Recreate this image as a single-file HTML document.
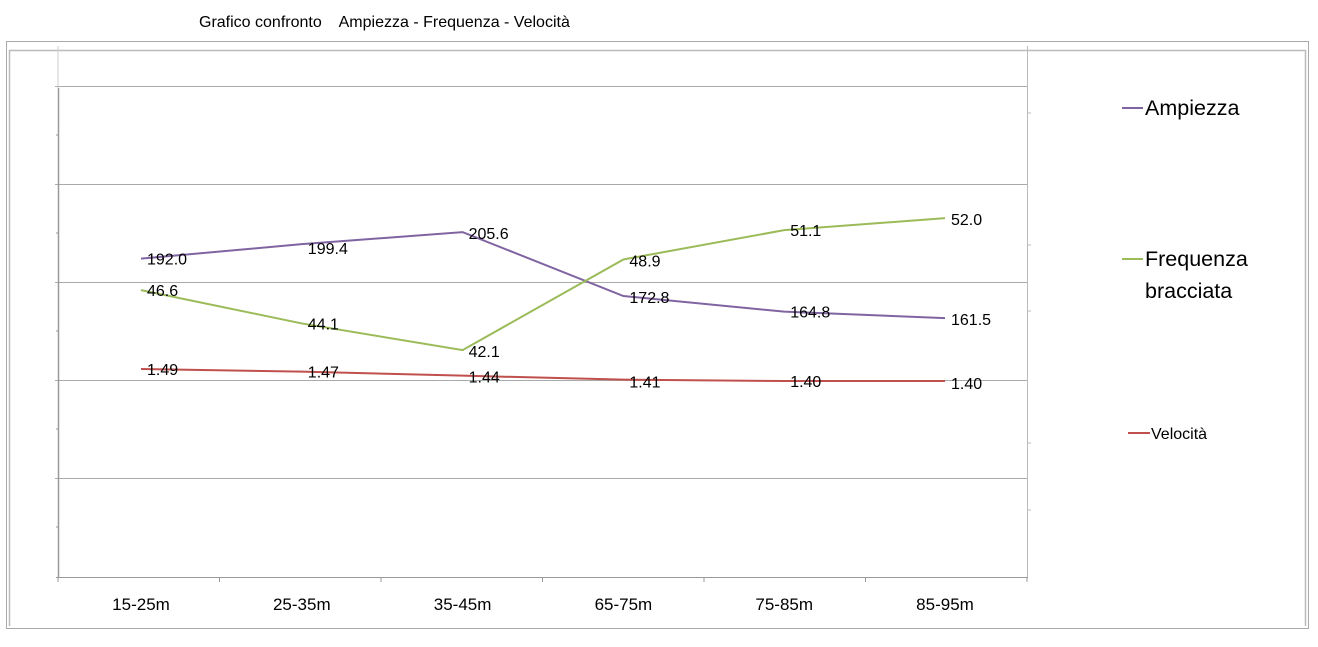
<!DOCTYPE html>
<html><head><meta charset="utf-8"><style>
body{margin:0;background:#fff;}
svg text{font-family:"Liberation Sans",sans-serif;}
</style></head><body>
<svg width="1318" height="642" xmlns="http://www.w3.org/2000/svg">
<rect x="6.5" y="41.5" width="1302" height="587" fill="none" stroke="#aaa"/>
<path d="M9.5 626 V50.5 H1305.5 V626" fill="none" stroke="#bbb" stroke-width="1.5"/>
<text x="199" y="27" font-size="16" style="white-space:pre">Grafico confronto    Ampiezza - Frequenza - Velocità</text>
<g id="grid"></g>
<line x1="58.5" y1="88" x2="58.5" y2="578" stroke="#999" stroke-width="1.5"/>
<line x1="58" y1="46" x2="58" y2="88" stroke="#ccc"/>
<line x1="1027.5" y1="46" x2="1027.5" y2="578" stroke="#bbb"/>
<line x1="56" y1="577.5" x2="1028" y2="577.5" stroke="#999"/>
<g id="xt"></g>
<g id="series"></g>
<g>
<line x1="1122" y1="108" x2="1143" y2="108" stroke="#8064a2" stroke-width="2"/>
<text x="1145" y="115" font-size="21.5">Ampiezza</text>
<line x1="1122" y1="259" x2="1143" y2="259" stroke="#9bbb59" stroke-width="2"/>
<text x="1145" y="266" font-size="21.5">Frequenza</text>
<text x="1145" y="298" font-size="21.5">bracciata</text>
<line x1="1128" y1="433" x2="1150" y2="433" stroke="#c0504d" stroke-width="2"/>
<text x="1151" y="439" font-size="16">Velocità</text>
</g>
</svg>
<script>
const categories=["15-25m","25-35m","35-45m","65-75m","75-85m","85-95m"];
const ampiezza=[192.0,199.4,205.6,172.8,164.8,161.5];
const frequenza=[46.6,44.1,42.1,48.9,51.1,52.0];
const velocita=[1.49,1.47,1.44,1.41,1.40,1.40];
const NS="http://www.w3.org/2000/svg";
const x=i=>141+i*160.8;
const yA=v=>633-1.95*v;
const yF=v=>911.3-13.33*v;
const yV=v=>381+(1.40-v)*133.3;
function mk(tag,attrs,parent){const e=document.createElementNS(NS,tag);for(const k in attrs)e.setAttribute(k,attrs[k]);parent.appendChild(e);return e;}
const grid=document.getElementById('grid');
[86,184,282,380,478].forEach(y=>{
 const l=mk('line',{x1:55,x2:1028,y1:y+0.5,y2:y+0.5,stroke:'#aaa'},grid);
 
 
});
[135,233,331,429,527].forEach(y=>{
 mk('line',{x1:56,x2:59,y1:y,y2:y,stroke:'#999'},grid);
});
[113,245,311,443,510].forEach(y=>{mk('line',{x1:1027,x2:1031,y1:y,y2:y,stroke:'#bbb'},grid);});
const xt=document.getElementById('xt');
for(let i=0;i<=6;i++){const xx=58+i*161.5;mk('line',{x1:xx,x2:xx,y1:577,y2:582,stroke:'#999'},xt);}
categories.forEach((c,i)=>{
 const t=mk('text',{x:x(i),y:610,'font-size':17,'text-anchor':'middle'},xt);
 t.textContent=c;
 
 
});
const S=document.getElementById('series');
function draw(vals,yf,color,name,fmt,dy){
 const p=mk('polyline',{points:vals.map((v,i)=>x(i)+','+yf(v)).join(' '),fill:'none',stroke:color,'stroke-width':2},S);
 
 
 vals.forEach((v,i)=>{
  const t=mk('text',{x:x(i)+6,y:yf(v)+dy[i],'font-size':16},S);
  t.textContent=fmt(v);
  
  
 });
}
draw(ampiezza,yA,'#8064a2','ampiezza',v=>v.toFixed(1),[6,10,7,7,6,7]);
draw(frequenza,yF,'#9bbb59','frequenza',v=>v.toFixed(1),[6,6,7,7,6,7]);
draw(velocita,yV,'#c0504d','velocita',v=>v.toFixed(2),[6,6,7,8,6,8]);
</script>
</body></html>
